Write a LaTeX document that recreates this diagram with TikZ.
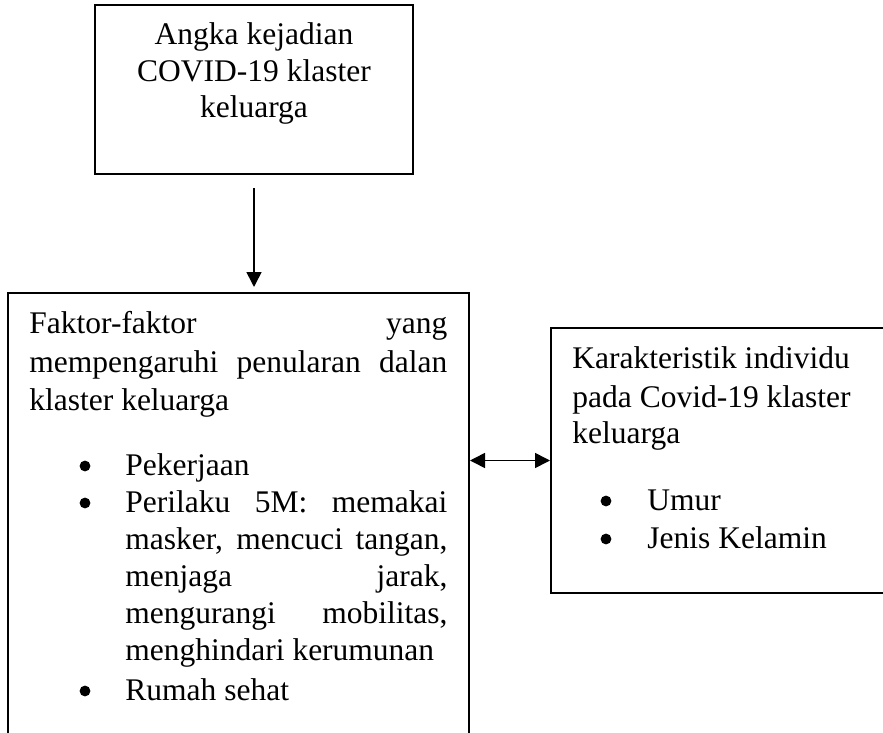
\documentclass[tikz,border=0pt]{standalone}
\usepackage{fontspec}
\setmainfont{Liberation Serif}
\usetikzlibrary{arrows.meta}
\begin{document}
\begin{tikzpicture}[x=0.5pt,y=-0.5pt,
  box/.style={draw, line width=1pt, inner sep=0pt},
  txt/.style={anchor=base west, inner sep=0pt, font=\fontsize{15.75}{19}\selectfont},
  ctxt/.style={anchor=base, inner sep=0pt, font=\fontsize{15.75}{19}\selectfont},
  bul/.style={circle, fill, inner sep=0pt, minimum size=5.4pt},
  arr/.style={line width=0.8pt, -{Triangle[length=7.5pt,width=7.5pt]}},
  darr/.style={line width=0.8pt, {Triangle[length=7.5pt,width=7.5pt]}-{Triangle[length=7.5pt,width=7.5pt]}},
]
\clip (0,0) rectangle (883,733);
% boxes
\node[box, minimum width=159pt, minimum height=84.5pt] (top) at (254,89.5) {};
\node[box, minimum width=230.5pt, minimum height=253.5pt] (left) at (238.5,546.5) {};
\node[box, minimum width=199.5pt, minimum height=132.5pt] (right) at (750.5,460.5) {};
% top box text
\node[ctxt] (t1) at (254,45) {Angka kejadian};
\node[ctxt] (t2) at (254,82) {COVID-19 klaster};
\node[ctxt] (t3) at (254,118) {keluarga};
% left box text
\node[txt] (l1) at (29,333) {\makebox[209pt][s]{Faktor-faktor yang}};
\node[txt] (l2) at (29,372) {\makebox[209pt][s]{mempengaruhi penularan dalan}};
\node[txt] (l3) at (29,410) {klaster keluarga};
\node[bul] (b1) at (85,466) {};
\node[txt] (i1) at (125,475) {Pekerjaan};
\node[bul] (b2) at (85,503) {};
\node[txt] (i2a) at (125,512) {\makebox[161pt][s]{Perilaku 5M: memakai}};
\node[txt] (i2b) at (125,549) {\makebox[161pt][s]{masker, mencuci tangan,}};
\node[txt] (i2c) at (125,586) {\makebox[161pt][s]{menjaga jarak,}};
\node[txt] (i2d) at (125,623) {\makebox[161pt][s]{mengurangi mobilitas,}};
\node[txt] (i2e) at (125,660) {menghindari kerumunan};
\node[bul] (b3) at (85,691) {};
\node[txt] (i3) at (125,700) {Rumah sehat};
% right box text
\node[txt] (r1) at (572,368) {Karakteristik individu};
\node[txt] (r2) at (572,407) {pada Covid-19 klaster};
\node[txt] (r3) at (572,443) {keluarga};
\node[bul] (rb1) at (606,501) {};
\node[txt] (ri1) at (647,510) {Umur};
\node[bul] (rb2) at (606,539) {};
\node[txt] (ri2) at (647,548) {Jenis Kelamin};
% connectors
\draw[arr, shorten <=6.5pt, shorten >=2.5pt] (top.south) -- (top.south |- left.north);
\draw[darr] (right.west -| left.east) -- (right.west);
\end{tikzpicture}
\end{document}
